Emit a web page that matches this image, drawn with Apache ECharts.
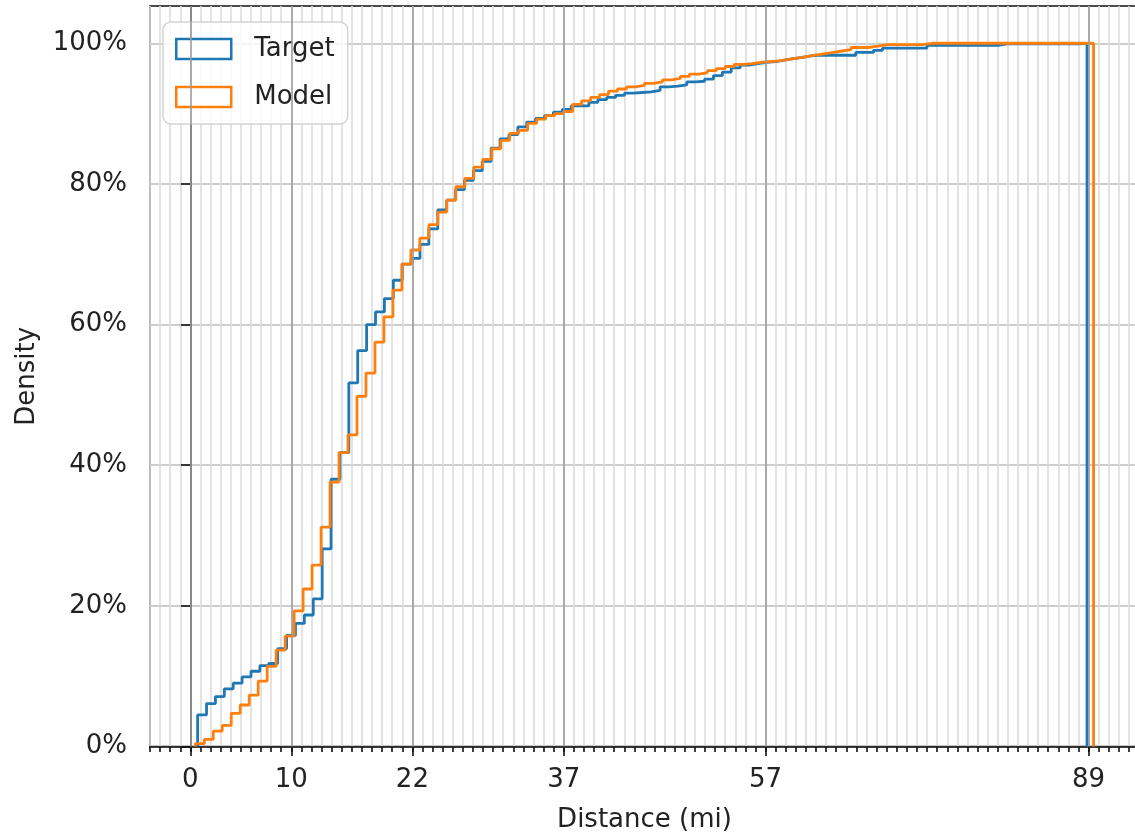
<!DOCTYPE html>
<html>
<head>
<meta charset="utf-8">
<script src="https://cdn.jsdelivr.net/npm/echarts@6/dist/echarts.min.js"></script>
<style>
  html, body { margin: 0; padding: 0; background: #fff; }
  #chart { width: 1135px; height: 836px; }
</style>
</head>
<body>
<div id="chart"></div>
<script>
// x tick labels (miles) and y tick labels (percent)
const majorTicks = [0, 10, 22, 37, 57, 89]
const yTicks = [0, 20, 40, 60, 80, 100]

// histogram range (first and last bin edge), 100 equal bins each
const targetRange = [0.72, 88.85]
const modelRange = [0.49, 89.5]

// cumulative density per bin, in %
const targetCum = [
  4.5, 6.1, 7.1, 8.2, 9.0, 9.9, 10.7, 11.5, 11.8, 13.9,
  15.8, 17.5, 18.7, 21.0, 28.1, 38.0, 41.8, 51.7, 56.3, 60.0,
  61.8, 63.7, 66.3, 68.6, 69.4, 71.4, 73.6, 76.3, 77.7, 79.2,
  80.5, 81.9, 83.2, 85.1, 86.4, 87.0, 88.1, 88.8, 89.3, 89.7,
  90.2, 90.6, 91.1, 91.1, 91.6, 92.0, 92.3, 92.6, 92.9, 93.0,
  93.1, 93.3, 93.8, 93.9, 94.1, 94.5, 94.6, 94.9, 95.4, 95.9,
  96.5, 96.9, 97.1, 97.3, 97.4, 97.6, 97.8, 98.0, 98.2, 98.3,
  98.3, 98.3, 98.3, 98.3, 98.7, 98.7, 99.0, 99.3, 99.3, 99.3,
  99.3, 99.3, 99.7, 99.7, 99.7, 99.7, 99.7, 99.7, 99.7, 99.7,
  99.9, 99.9, 99.9, 99.9, 99.9, 99.9, 99.9, 99.9, 99.9, 100
]
const modelCum = [
  0.4, 1.0, 2.2, 3.0, 4.7, 5.9, 7.3, 9.3, 11.4, 13.7,
  15.7, 19.3, 22.4, 25.8, 31.2, 37.6, 41.8, 44.3, 49.8, 53.1,
  57.5, 61.1, 64.9, 68.6, 70.6, 72.3, 74.2, 76.0, 77.7, 79.6,
  80.8, 82.4, 83.5, 85.0, 86.2, 87.2, 87.6, 88.6, 89.2, 89.7,
  90.0, 90.3, 91.3, 91.8, 92.3, 92.7, 93.2, 93.5, 93.8, 94.0,
  94.3, 94.5, 94.8, 95.0, 95.3, 95.6, 95.8, 96.1, 96.4, 96.7,
  97.0, 97.1, 97.3, 97.4, 97.5, 97.7, 97.9, 98.1, 98.3, 98.5,
  98.7, 98.9, 99.1, 99.4, 99.4, 99.6, 99.8, 99.8, 99.8, 99.8,
  99.8, 100, 100, 100, 100, 100, 100, 100, 100, 100,
  100, 100, 100, 100, 100, 100, 100, 100, 100, 100
]

const BLUE = '#1f77b4'
const ORANGE = '#ff7f0e'
const TEXT = '#222'
const FONT = 'DejaVu Sans'

// outline of a step histogram: up from 0 at the first edge, down to 0 at the last
function stepPoints(range, heights) {
  const n = heights.length
  const w = (range[1] - range[0]) / n
  const pts = [[range[0], 0]]
  heights.forEach((h, i) => pts.push([range[0] + i * w, h]))
  pts.push([range[1], heights[n - 1]])
  pts.push([range[1], 0])
  return pts
}

const chart = echarts.init(document.getElementById('chart'), null, { renderer: 'canvas' })

const option = {
  animation: false,
  backgroundColor: '#fff',
  textStyle: { fontFamily: FONT },
  grid: {
    left: 150, top: 6, right: -4, bottom: 89.5,
    outerBoundsMode: 'none', containLabel: false,
    show: true, borderColor: '#111', borderWidth: 1.6, backgroundColor: 'transparent'
  },
  legend: {
    left: 163, top: 22, orient: 'vertical',
    padding: [14, 13, 14, 12],
    itemWidth: 55, itemHeight: 20, itemGap: 22,
    backgroundColor: 'rgba(255,255,255,0.8)',
    borderColor: '#d4d4d4', borderWidth: 1.5, borderRadius: 8,
    selectedMode: false,
    textStyle: { fontFamily: FONT, fontSize: 26, color: TEXT, lineHeight: 20, padding: [0, 0, 0, 18] },
    data: [
      { name: 'Target', icon: 'rect', itemStyle: { color: '#fff', borderColor: BLUE, borderWidth: 2.5 } },
      { name: 'Model', icon: 'rect', itemStyle: { color: '#fff', borderColor: ORANGE, borderWidth: 2.5 } }
    ]
  },
  xAxis: [
    {
      // minor ticks and minor grid, one per mile
      type: 'value', min: -4, max: 94, interval: 1,
      axisLine: { show: true, lineStyle: { color: '#111', width: 1.6 } },
      axisTick: { show: true, length: 5.5, lineStyle: { color: '#111', width: 1.6 } },
      axisLabel: { show: false },
      splitLine: { show: true, lineStyle: { color: '#dcdcdc', width: 1.6 } }
    },
    {
      // major ticks with labels
      type: 'value', min: -4, max: 94, position: 'bottom',
      axisLine: { show: false },
      axisTick: { show: true, length: 9.5, customValues: majorTicks, lineStyle: { color: '#111', width: 1.6 } },
      axisLabel: { show: true, customValues: majorTicks, margin: 21, fontSize: 26, color: TEXT, fontFamily: FONT },
      splitLine: { show: false },
      name: 'Distance (mi)', nameLocation: 'middle', nameGap: 61,
      nameTextStyle: { fontSize: 26, color: TEXT, fontFamily: FONT }
    }
  ],
  yAxis: {
    type: 'value', min: 0, max: 105.3, interval: 20,
    axisLine: { show: true, lineStyle: { color: '#111', width: 1.6 } },
    axisTick: { show: true, length: 9.5, customValues: yTicks, lineStyle: { color: '#111', width: 1.6 } },
    axisLabel: {
      customValues: yTicks, margin: 23, fontSize: 26, color: TEXT, fontFamily: FONT,
      formatter: '{value}%'
    },
    splitLine: { show: true, lineStyle: { color: '#bcbcbc', width: 1.6 } },
    name: 'Density', nameLocation: 'middle', nameGap: 110, nameRotate: 90,
    nameTextStyle: { fontSize: 26, color: TEXT, fontFamily: FONT }
  },
  series: [
    {
      // major vertical grid lines
      name: 'grid', type: 'line', data: [], z: 1, silent: true,
      markLine: {
        silent: true, symbol: 'none', animation: false,
        label: { show: false },
        lineStyle: { color: '#9c9c9c', width: 1.6, type: 'solid' },
        data: majorTicks.map(v => ({ xAxis: v }))
      }
    },
    {
      name: 'Target', type: 'line', step: 'end', showSymbol: false, z: 3,
      lineStyle: { color: BLUE, width: 2.8 }, itemStyle: { color: BLUE },
      data: stepPoints(targetRange, targetCum)
    },
    {
      name: 'Model', type: 'line', step: 'end', showSymbol: false, z: 4,
      lineStyle: { color: ORANGE, width: 2.8 }, itemStyle: { color: ORANGE },
      data: stepPoints(modelRange, modelCum)
    }
  ]
}

chart.setOption(option)
window.addEventListener('resize', () => chart.resize())
</script>
</body>
</html>
